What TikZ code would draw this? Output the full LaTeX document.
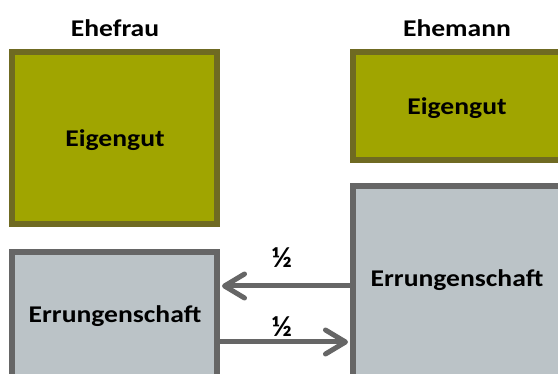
\documentclass[tikz,border=0pt]{standalone}
\usepackage{fontspec}
\setmainfont{Carlito}
\usetikzlibrary{arrows.meta}
\definecolor{olivefill}{RGB}{160,165,0}
\definecolor{olivedraw}{RGB}{111,106,34}
\definecolor{grayfill}{RGB}{187,195,199}
\definecolor{graydraw}{RGB}{102,102,102}
\newcommand{\wide}[1]{\scalebox{1.15}[1]{#1}}
\begin{document}
\begin{tikzpicture}[x=1pt,y=-1pt,
  eigenbox/.style={draw=olivedraw,fill=olivefill,line width=6pt},
  errbox/.style={draw=graydraw,fill=grayfill,line width=6pt},
  lbl/.style={font=\bfseries\fontsize{24}{28}\selectfont,text=black,inner sep=0pt},
  half/.style={font=\bfseries\fontsize{29}{32}\selectfont,text=black,inner sep=0pt},
  flow/.style={draw=graydraw,line width=5pt,-{Straight Barb[length=20pt,width=24pt,line cap=round,line join=round]}}]
\useasboundingbox (0,0) rectangle (558,374);
\clip (0,0) rectangle (558,374);
\fill[white] (0,0) rectangle (558,374);
% boxes
\draw[eigenbox] (12,52) rectangle (217,224);
\draw[eigenbox] (353,52) rectangle (580,160);
\draw[errbox] (353,186) rectangle (580,400);
\draw[errbox] (12,252) rectangle (217,400);
% anchors for the connectors
\coordinate (lerrR) at (220,286);
\coordinate (lerrR2) at (220,342);
\coordinate (rerrL) at (350,286);
\coordinate (rerrL2) at (350,342);
% titles
\node[lbl] (ehefrau) at (115,28) {\wide{Ehefrau}};
\node[lbl] (ehemann) at (457,28) {\wide{Ehemann}};
\node[lbl] (eigenL) at (115,140) {\wide{Eigengut}};
\node[lbl] (eigenR) at (457,108) {\wide{Eigengut}};
\node[lbl] (errR) at (457,280) {\wide{Errungenschaft}};
\node[lbl] (errL) at (115,316) {\wide{Errungenschaft}};
% arrows
\draw[flow] (rerrL) -- ([xshift=2pt]lerrR);
\draw[flow] (lerrR2) -- ([xshift=-2pt]rerrL2);
\node[half] (h1) at (282,258) {½};
\node[half] (h2) at (282,327) {½};
\end{tikzpicture}
\end{document}
